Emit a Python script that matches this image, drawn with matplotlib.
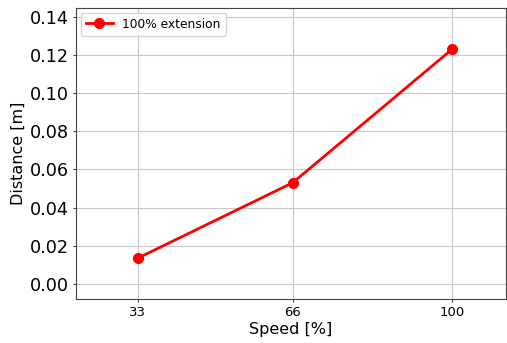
import matplotlib
matplotlib.use("Agg")
import matplotlib.pyplot as plt

speeds = [33, 66, 100]
distances = [0.0135, 0.053, 0.123]
xtick_labels = ["33", "66", "100"]
series_label = "100% extension"

fig = plt.figure(figsize=(5.07, 3.43), dpi=100)
ax = fig.add_axes([0.150, 0.128, 0.848, 0.849])
ax.plot(speeds, distances, color="red", marker="o", markersize=7, linewidth=2.0, label=series_label)
ax.set_xlim(19.8, 111.5)
ax.set_ylim(-0.008, 0.1447)
ax.set_xticks(speeds)
ax.set_xticklabels(xtick_labels, fontsize=9.5)
ax.set_yticks([0.0, 0.02, 0.04, 0.06, 0.08, 0.10, 0.12, 0.14])
ax.tick_params(axis="y", labelsize=12.7)
ax.tick_params(axis="both", length=2.5, pad=2.5, width=0.8, color="#444444")
ax.set_xlabel("Speed [%]", fontsize=11.5, labelpad=2)
ax.set_ylabel("Distance [m]", fontsize=11.5, labelpad=3)
ax.grid(True, color="#c8c8c8", linewidth=0.8)
for s in ax.spines.values():
    s.set_color("#444444")
ax.legend(loc="upper left", fontsize=8.8, handlelength=2.2, borderaxespad=0.4)
fig.savefig("out.png", dpi=100)
